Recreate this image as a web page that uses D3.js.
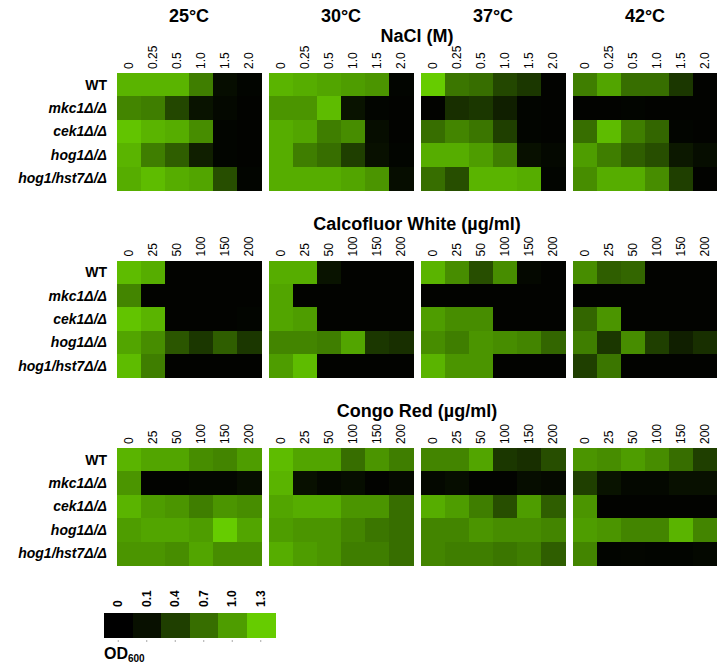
<!DOCTYPE html>
<html>
<head>
<meta charset="utf-8">
<script src="https://cdn.jsdelivr.net/npm/d3@7"></script>
<style>
  body { margin: 0; background: #fff; }
  text { font-family: "Liberation Sans", Arial, sans-serif; fill: #000; }
</style>
</head>
<body>
<div id="wrapper"></div>
<script>
const temperatures = ["25°C", "30°C", "37°C", "42°C"];
const strains = ["WT", "mkc1Δ/Δ", "cek1Δ/Δ", "hog1Δ/Δ", "hog1/hst7Δ/Δ"];
const naclDoses = ["0", "0.25", "0.5", "1.0", "1.5", "2.0"];
const dyeDoses = ["0", "25", "50", "100", "150", "200"];
const legendTicks = ["0", "0.1", "0.4", "0.7", "1.0", "1.3"];
const legendValues = [0, 0.1, 0.4, 0.7, 1.0, 1.3];

// OD600: one block per temperature, rows = strains, columns = doses
const naclOD = [
    [[1.15, 1.15, 1.15, 0.8, 0.08, 0.03],
     [0.85, 0.8, 0.45, 0.12, 0.05, 0.02],
     [1.25, 1.15, 1.1, 0.9, 0.03, 0.02],
     [1.15, 0.8, 0.6, 0.2, 0.03, 0.02],
     [1.1, 1.2, 1.1, 1.05, 0.5, 0.03]],
    [[1.15, 1.1, 1.05, 1.0, 0.95, 0.03],
     [0.95, 0.95, 1.2, 0.12, 0.03, 0.02],
     [1.1, 1.05, 0.8, 0.9, 0.08, 0.02],
     [1.1, 0.8, 0.7, 0.4, 0.1, 0.03],
     [1.1, 1.1, 1.1, 1.05, 0.95, 0.08]],
    [[1.3, 0.75, 0.7, 0.45, 0.35, 0.02],
     [0.02, 0.3, 0.35, 0.2, 0.03, 0.02],
     [0.7, 0.85, 0.75, 0.4, 0.03, 0.02],
     [1.1, 1.1, 1.0, 0.8, 0.1, 0.05],
     [0.7, 0.5, 1.15, 1.15, 1.1, 0.03]],
    [[0.8, 1.05, 0.7, 0.7, 0.35, 0.02],
     [0.02, 0.02, 0.03, 0.02, 0.02, 0.02],
     [0.7, 1.2, 0.8, 0.65, 0.03, 0.02],
     [1.0, 0.8, 0.6, 0.5, 0.15, 0.08],
     [0.9, 1.1, 1.1, 0.9, 0.4, 0.02]]
];

const calcofluorOD = [
    [[1.2, 1.1, 0.02, 0.02, 0.02, 0.02],
     [0.85, 0.02, 0.02, 0.02, 0.02, 0.02],
     [1.25, 1.15, 0.02, 0.02, 0.02, 0.03],
     [1.05, 0.9, 0.55, 0.35, 0.6, 0.35],
     [1.2, 0.8, 0.02, 0.02, 0.02, 0.02]],
    [[1.1, 1.1, 0.12, 0.02, 0.02, 0.02],
     [1.05, 0.02, 0.02, 0.02, 0.02, 0.02],
     [1.05, 1.0, 0.02, 0.02, 0.02, 0.02],
     [0.85, 0.85, 0.8, 1.05, 0.35, 0.3],
     [1.0, 1.2, 0.02, 0.02, 0.02, 0.02]],
    [[1.15, 0.9, 0.5, 0.9, 0.05, 0.02],
     [0.02, 0.02, 0.02, 0.02, 0.02, 0.02],
     [1.0, 0.9, 0.9, 0.02, 0.02, 0.02],
     [0.9, 0.8, 0.95, 0.9, 0.85, 0.65],
     [1.15, 0.95, 0.95, 0.02, 0.02, 0.02]],
    [[0.9, 0.6, 0.65, 0.02, 0.02, 0.02],
     [0.02, 0.02, 0.02, 0.02, 0.02, 0.02],
     [0.65, 0.95, 0.02, 0.02, 0.02, 0.02],
     [0.8, 0.35, 0.9, 0.4, 0.2, 0.3],
     [0.4, 0.75, 0.02, 0.02, 0.02, 0.02]]
];

const congoOD = [
    [[1.15, 1.05, 1.05, 0.9, 0.85, 1.0],
     [0.95, 0.02, 0.02, 0.04, 0.04, 0.08],
     [1.15, 1.0, 0.95, 0.8, 0.95, 0.9],
     [1.0, 1.05, 1.05, 1.0, 1.3, 1.05],
     [0.95, 0.95, 0.9, 1.05, 0.9, 0.9]],
    [[1.2, 1.05, 1.05, 0.7, 0.95, 0.8],
     [1.15, 0.1, 0.05, 0.08, 0.02, 0.06],
     [1.05, 1.1, 1.1, 0.95, 0.95, 0.7],
     [1.0, 0.95, 0.95, 0.85, 0.75, 0.7],
     [1.1, 1.0, 0.95, 0.8, 0.8, 0.7]],
    [[0.85, 0.85, 1.05, 0.35, 0.3, 0.5],
     [0.05, 0.08, 0.02, 0.02, 0.08, 0.06],
     [1.1, 1.0, 0.8, 0.5, 1.0, 0.6],
     [0.85, 0.85, 0.95, 0.9, 0.9, 0.85],
     [0.85, 0.8, 0.8, 0.75, 0.8, 0.6]],
    [[0.95, 0.9, 1.0, 0.9, 0.7, 0.4],
     [0.4, 0.12, 0.05, 0.05, 0.1, 0.1],
     [0.95, 0.02, 0.02, 0.02, 0.02, 0.02],
     [1.0, 0.95, 0.85, 0.85, 1.15, 0.85],
     [0.85, 0.03, 0.04, 0.03, 0.03, 0.05]]
];

const panels = [
    { title: "NaCl (M)", doses: naclDoses, values: naclOD },
    { title: "Calcofluor White (µg/ml)", doses: dyeDoses, values: calcofluorOD },
    { title: "Congo Red (µg/ml)", doses: dyeDoses, values: congoOD }
];

const dimension = { width: 723, height: 666, left: 117, right: 717 };

const svg = d3.select("#wrapper").append("svg")
    .attr("width", dimension.width)
    .attr("height", dimension.height);

const color = d3.scaleLinear()
    .domain([0, 1.3])
    .range(["#000000", "#66cc00"])
    .clamp(true);

const xBlock = d3.scaleBand()
    .domain(temperatures)
    .range([dimension.left, dimension.right])
    .paddingInner(0.0526);

const xCell = d3.scaleBand()
    .domain(d3.range(6))
    .range([0, xBlock.bandwidth()]);

const panelTop = d3.scaleLinear().domain([0, 2]).range([73, 448]);

const yRow = d3.scaleBand().domain(strains).range([0, 117]);

// temperature headers
svg.selectAll(".temp")
    .data(temperatures)
    .join("text")
    .attr("x", d => xBlock(d) + xBlock.bandwidth() / 2)
    .attr("y", 22)
    .attr("text-anchor", "middle")
    .style("font-weight", "bold")
    .style("font-size", "18px")
    .text(d => d);

panels.forEach((panel, p) => {
    const top = panelTop(p);
    const g = svg.append("g");

    g.append("text")
        .attr("x", (dimension.left + dimension.right) / 2)
        .attr("y", top - 31)
        .attr("text-anchor", "middle")
        .style("font-weight", "bold")
        .style("font-size", "18px")
        .text(panel.title);

    // strain names
    g.selectAll(".strain")
        .data(strains)
        .join("text")
        .attr("x", 107)
        .attr("y", d => top + yRow(d) + yRow.bandwidth() / 2)
        .attr("dy", "0.35em")
        .attr("text-anchor", "end")
        .style("font-weight", "bold")
        .style("font-style", d => d == "WT" ? "normal" : "italic")
        .style("font-size", "14px")
        .text(d => d);

    temperatures.forEach((t, ti) => {
        const block = g.append("g")
            .attr("transform", `translate(${xBlock(t)},${top})`);

        panel.values[ti].forEach((row, ri) => {
            block.selectAll(null)
                .data(row)
                .join("rect")
                .attr("x", (d, i) => xCell(i))
                .attr("y", yRow(strains[ri]))
                .attr("width", xCell.bandwidth() + 0.5)
                .attr("height", yRow.bandwidth() + 0.5)
                .attr("fill", d => color(d))
                .attr("shape-rendering", "crispEdges");
        });

        // dose labels, rotated
        block.selectAll(".dose")
            .data(panel.doses)
            .join("text")
            .attr("transform", (d, i) => `translate(${xCell(i) + xCell.bandwidth() / 2},-4) rotate(-90)`)
            .attr("dy", "0.35em")
            .attr("text-anchor", "start")
            .style("font-size", "12px")
            .text(d => d);
    });
});

// legend
const xLegend = d3.scaleBand().domain(legendTicks).range([104, 275]);
const legend = svg.append("g").attr("transform", "translate(0,613)");

legend.selectAll("rect")
    .data(legendValues)
    .join("rect")
    .attr("x", (d, i) => xLegend(legendTicks[i]))
    .attr("y", 0)
    .attr("width", xLegend.bandwidth() + 0.5)
    .attr("height", 25)
    .attr("fill", d => color(d))
    .attr("shape-rendering", "crispEdges");

legend.selectAll(".lab")
    .data(legendTicks)
    .join("text")
    .attr("transform", d => `translate(${xLegend(d) + xLegend.bandwidth() / 2},-6) rotate(-90)`)
    .attr("dy", "0.35em")
    .style("font-weight", "bold")
    .style("font-size", "12px")
    .text(d => d);

legend.selectAll(".tick")
    .data(legendTicks)
    .join("line")
    .attr("x1", d => xLegend(d) + xLegend.bandwidth() / 2)
    .attr("x2", d => xLegend(d) + xLegend.bandwidth() / 2)
    .attr("y1", 27)
    .attr("y2", 29)
    .attr("stroke", "#aaa");

const od = svg.append("text")
    .attr("x", 104)
    .attr("y", 659)
    .style("font-weight", "bold")
    .style("font-size", "16px");
od.append("tspan").text("OD");
od.append("tspan")
    .attr("dy", 3)
    .style("font-size", "10px")
    .text("600");
</script>
</body>
</html>
